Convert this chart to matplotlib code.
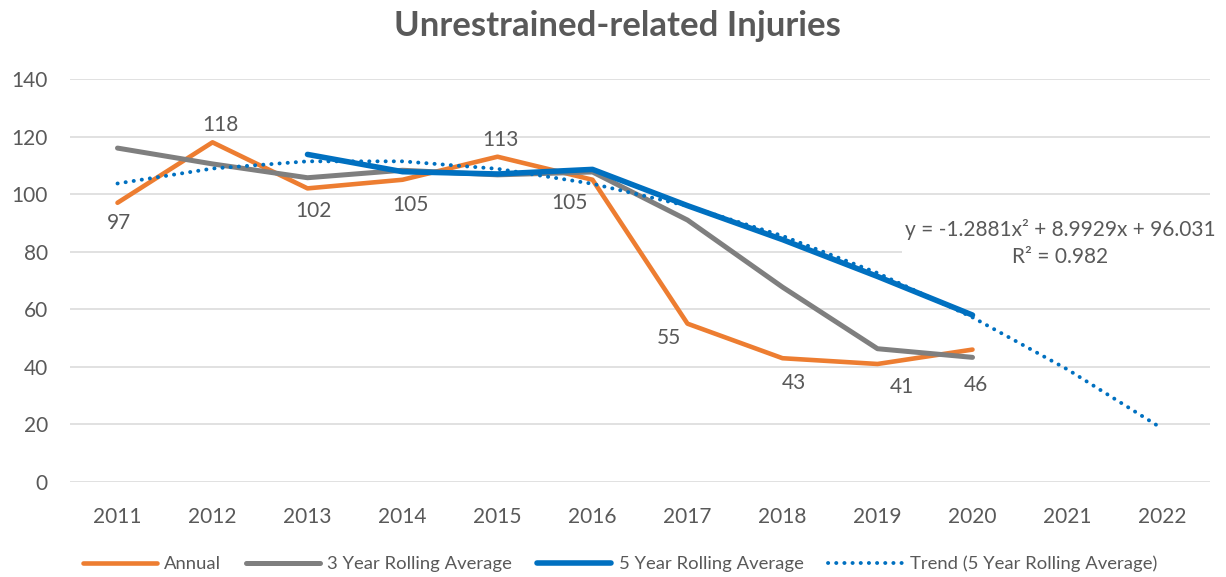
import matplotlib
matplotlib.use("Agg")
import matplotlib.pyplot as plt

years = ["2011", "2012", "2013", "2014", "2015", "2016", "2017", "2018", "2019", "2020", "2021", "2022"]
annual = [97, 118, 102, 105, 113, 105, 55, 43, 41, 46]
rolling3 = [116.0, 110.5, 105.7, 108.3, 106.7, 107.7, 91.0, 67.7, 46.3, 43.3]
rolling5 = [None, None, 113.8, 107.8, 107.0, 108.6, 96.0, 84.2, 71.4, 58.0]
trend5 = [103.7, 108.9, 111.4, 111.4, 108.8, 103.6, 95.9, 85.5, 72.6, 57.2, 39.1, 18.5]
yticks = [0, 20, 40, 60, 80, 100, 120, 140]
title = "Unrestrained-related Injuries"
equation = "y = -1.2881x² + 8.9929x + 96.031\nR² = 0.982"

TXT = "#595959"
plt.rcParams["font.family"] = ["Lato", "DejaVu Sans"]

fig = plt.figure(figsize=(12.26, 5.77), dpi=100)
ax = fig.add_axes([70 / 1226, 1 - 482 / 577, 1140 / 1226, 403 / 577])

x = list(range(len(years)))
xa = x[:len(annual)]
ax.plot(xa, annual, color="#ED7D31", lw=3.3, solid_capstyle="round", solid_joinstyle="round",
        label="Annual", zorder=3)
ax.plot(xa, rolling3, color="#7F7F7F", lw=3.6, solid_capstyle="round", solid_joinstyle="round",
        label="3 Year Rolling Average", zorder=4)
r5x = [i for i, v in zip(xa, rolling5) if v is not None]
r5y = [v for v in rolling5 if v is not None]
ax.plot(r5x, r5y, color="#0070C0", lw=4.0, solid_capstyle="round", solid_joinstyle="round",
        label="5 Year Rolling Average", zorder=5)
ax.plot(x, trend5, color="#0070C0", lw=2.8, linestyle=(0, (0.05, 2.05)), dash_capstyle="round",
        label="Trend (5 Year Rolling Average)", zorder=6)

# data labels for annual series (pixel offsets)
offsets = [(2, -20), (8, 17), (6, -23), (8, -25), (3, 17), (-23, -23),
           (-19, -14), (11, -25), (24, -23), (3, -35)]
for xi, v, (dx, dy) in zip(xa, annual, offsets):
    ax.annotate(str(v), (xi, v), xytext=(dx, dy), textcoords="offset pixels",
                ha="center", va="center", fontsize=15, color=TXT, zorder=7)

ax.text(1060 / 1226, 1 - 243 / 577, equation, transform=fig.transFigure, ha="center", va="center",
        fontsize=15, color=TXT, linespacing=1.4, zorder=8,
        bbox=dict(facecolor="white", edgecolor="none", pad=2))

ax.set_xlim(-0.5, len(years) - 0.5)
ax.set_ylim(0, 140)
ax.set_yticks(yticks)
ax.set_xticks(x)
ax.set_xticklabels(years)
ax.grid(axis="y", color="#D9D9D9", lw=1.1, zorder=0)
ax.set_axisbelow(True)
for s in ax.spines.values():
    s.set_visible(False)
ax.tick_params(axis="both", length=0, labelsize=15, labelcolor=TXT)
ax.tick_params(axis="y", pad=16)
ax.tick_params(axis="x", pad=18)

fig.text(617 / 1226, 1 - 26 / 577, title, ha="center", va="center", fontsize=25,
         fontweight="bold", color=TXT)

fig.legend(loc="center", bbox_to_anchor=(620 / 1226, 1 - 564 / 577), ncol=4, frameon=False,
           fontsize=13.3, labelcolor=TXT, handlelength=4.0, handletextpad=0.4, columnspacing=1.35,
           borderpad=0.1)

fig.savefig("out.png", dpi=100)
